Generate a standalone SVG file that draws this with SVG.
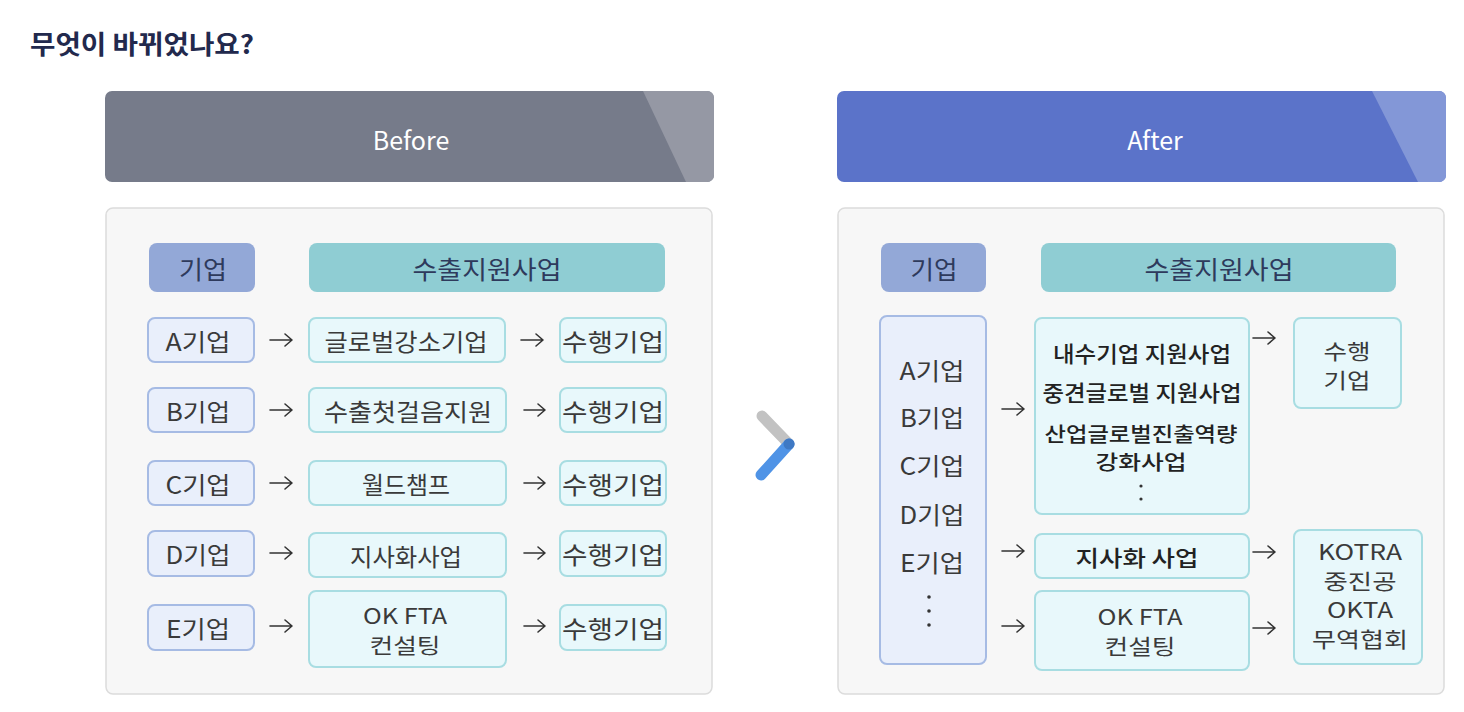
<svg xmlns="http://www.w3.org/2000/svg" width="1464" height="712" viewBox="0 0 1464 712">
<defs>
<style>
text{font-family:"Noto Sans CJK KR","Noto Sans",sans-serif;text-anchor:middle;dominant-baseline:central}
.title{font-size:26px;font-weight:700;fill:#22294d;text-anchor:start}
.hdr{font-size:25px;fill:#ffffff}
.panel{fill:#f7f7f7;stroke:#dcdcdc;stroke-width:1.5}
.hco{fill:#93a8d7}
.hsu{fill:#8fcdd3}
.htx{font-size:25px;fill:#2e3a5c}
.co{fill:#e9effb;stroke:#a6bbe4;stroke-width:2}
.su{fill:#e8f8fb;stroke:#a8dde2;stroke-width:2}
.t{font-size:24px;fill:#3a3a3a}
.m{font-size:21px;fill:#3a3a3a}
.tb{font-size:22px;fill:#222;font-weight:500}
.mb{font-size:20px;fill:#222;font-weight:500}
.arr{fill:none;stroke:#333;stroke-width:1.6;stroke-linecap:round;stroke-linejoin:round}
</style>
</defs>
<rect width="1464" height="712" fill="#ffffff"/>
<text class="title" x="30" y="42" textLength="224" lengthAdjust="spacingAndGlyphs">무엇이 바뀌었나요?</text>

<g id="before-header">
<rect x="105" y="91" width="609" height="91" rx="7" fill="#767b8a"/>
<path d="M643,91 H707 A7,7 0 0 1 714,98 V175 A7,7 0 0 1 707,182 H686 Z" fill="#9598a4"/>
<text class="hdr" x="411" y="139">Before</text>
</g>
<g id="after-header">
<rect x="837" y="91" width="609" height="91" rx="7" fill="#5b73c9"/>
<path d="M1372,91 H1439 A7,7 0 0 1 1446,98 V175 A7,7 0 0 1 1439,182 H1418 Z" fill="#8397d7"/>
<text class="hdr" x="1155" y="139">After</text>
</g>

<g id="before-panel"><rect class="panel" x="106" y="208" width="606" height="486" rx="7"/></g>
<g id="after-panel"><rect class="panel" x="838" y="208" width="606" height="486" rx="7"/></g>

<g id="chevron">
<line x1="762" y1="416" x2="789" y2="444" stroke="#c2c2c2" stroke-width="11" stroke-linecap="round"/>
<line x1="789" y1="444" x2="761" y2="475" stroke="#4f93e6" stroke-width="11" stroke-linecap="round"/>
<circle cx="789" cy="444" r="5.5" fill="#3f79c4"/>
</g>

<!-- Before -->
<g id="b-h-co"><rect class="hco" x="149" y="243" width="106" height="49" rx="8"/><text class="htx" x="203" y="268" textLength="48" lengthAdjust="spacingAndGlyphs">기업</text></g>
<g id="b-h-su"><rect class="hsu" x="309" y="243" width="356" height="49" rx="8"/><text class="htx" x="487" y="268" textLength="149" lengthAdjust="spacingAndGlyphs">수출지원사업</text></g>

<g id="b-a-co"><rect class="co" x="148" y="318" width="106" height="44" rx="7"/><text class="t" x="198" y="340" textLength="65" lengthAdjust="spacingAndGlyphs">A기업</text></g>
<g id="b-a-su"><rect class="su" x="309" y="318" width="196" height="44" rx="7"/><text class="t" x="406" y="340" textLength="163" lengthAdjust="spacingAndGlyphs">글로벌강소기업</text></g>
<g id="b-a-do"><rect class="su" x="560" y="318" width="106" height="44" rx="7"/><text class="t" x="613" y="340" textLength="102" lengthAdjust="spacingAndGlyphs">수행기업</text></g>

<g id="b-b-co"><rect class="co" x="148" y="388" width="106" height="44" rx="7"/><text class="t" x="198" y="410" textLength="64" lengthAdjust="spacingAndGlyphs">B기업</text></g>
<g id="b-b-su"><rect class="su" x="309" y="388" width="197" height="44" rx="7"/><text class="t" x="408" y="410" textLength="168" lengthAdjust="spacingAndGlyphs">수출첫걸음지원</text></g>
<g id="b-b-do"><rect class="su" x="560" y="388" width="106" height="44" rx="7"/><text class="t" x="613" y="410" textLength="102" lengthAdjust="spacingAndGlyphs">수행기업</text></g>

<g id="b-c-co"><rect class="co" x="148" y="461" width="106" height="44" rx="7"/><text class="t" x="198" y="483" textLength="65" lengthAdjust="spacingAndGlyphs">C기업</text></g>
<g id="b-c-su"><rect class="su" x="309" y="461" width="197" height="44" rx="7"/><text class="t" x="406" y="483" textLength="88" lengthAdjust="spacingAndGlyphs">월드챔프</text></g>
<g id="b-c-do"><rect class="su" x="560" y="461" width="106" height="44" rx="7"/><text class="t" x="613" y="483" textLength="102" lengthAdjust="spacingAndGlyphs">수행기업</text></g>

<g id="b-d-co"><rect class="co" x="148" y="531" width="106" height="45" rx="7"/><text class="t" x="198" y="553" textLength="65" lengthAdjust="spacingAndGlyphs">D기업</text></g>
<g id="b-d-su"><rect class="su" x="309" y="533" width="197" height="44" rx="7"/><text class="t" x="406" y="555" textLength="112" lengthAdjust="spacingAndGlyphs">지사화사업</text></g>
<g id="b-d-do"><rect class="su" x="560" y="531" width="106" height="45" rx="7"/><text class="t" x="613" y="553" textLength="102" lengthAdjust="spacingAndGlyphs">수행기업</text></g>

<g id="b-e-co"><rect class="co" x="148" y="605" width="106" height="45" rx="7"/><text class="t" x="198" y="627" textLength="64" lengthAdjust="spacingAndGlyphs">E기업</text></g>
<g id="b-e-su"><rect class="su" x="309" y="591" width="197" height="76" rx="7"/><text class="m" x="405" y="615" textLength="84" lengthAdjust="spacingAndGlyphs">OK FTA</text><text class="m" x="405" y="644" textLength="71" lengthAdjust="spacingAndGlyphs">컨설팅</text></g>
<g id="b-e-do"><rect class="su" x="560" y="605" width="106" height="45" rx="7"/><text class="t" x="613" y="627" textLength="102" lengthAdjust="spacingAndGlyphs">수행기업</text></g>

<!-- After -->
<g id="a-h-co"><rect class="hco" x="881" y="243" width="105" height="49" rx="8"/><text class="htx" x="934" y="268" textLength="47" lengthAdjust="spacingAndGlyphs">기업</text></g>
<g id="a-h-su"><rect class="hsu" x="1041" y="243" width="355" height="49" rx="8"/><text class="htx" x="1219" y="268" textLength="149" lengthAdjust="spacingAndGlyphs">수출지원사업</text></g>

<g id="a-co">
<rect class="co" x="880" y="316" width="106" height="348" rx="7"/>
<text class="t" x="932" y="369" textLength="65" lengthAdjust="spacingAndGlyphs">A기업</text>
<text class="t" x="932" y="416" textLength="64" lengthAdjust="spacingAndGlyphs">B기업</text>
<text class="t" x="932" y="464" textLength="65" lengthAdjust="spacingAndGlyphs">C기업</text>
<text class="t" x="932" y="513" textLength="65" lengthAdjust="spacingAndGlyphs">D기업</text>
<text class="t" x="932" y="561" textLength="64" lengthAdjust="spacingAndGlyphs">E기업</text>
<circle cx="929" cy="597" r="1.8" fill="#333"/>
<circle cx="929" cy="611" r="1.8" fill="#333"/>
<circle cx="929" cy="625" r="1.8" fill="#333"/>
</g>
<g id="a-su1">
<rect class="su" x="1035" y="318" width="214" height="196" rx="7"/>
<text class="tb" x="1142" y="352" textLength="178" lengthAdjust="spacingAndGlyphs">내수기업 지원사업</text>
<text class="tb" x="1142" y="391" textLength="199" lengthAdjust="spacingAndGlyphs">중견글로벌 지원사업</text>
<text class="mb" x="1141" y="433" textLength="193" lengthAdjust="spacingAndGlyphs">산업글로벌진출역량</text>
<text class="mb" x="1141" y="461" textLength="91" lengthAdjust="spacingAndGlyphs">강화사업</text>
<circle cx="1141" cy="486" r="1.6" fill="#333"/>
<circle cx="1141" cy="499" r="1.6" fill="#333"/>
</g>
<g id="a-do1"><rect class="su" x="1294" y="318" width="107" height="90" rx="7"/><text class="m" x="1347" y="350" textLength="47" lengthAdjust="spacingAndGlyphs">수행</text><text class="m" x="1347" y="379" textLength="47" lengthAdjust="spacingAndGlyphs">기업</text></g>
<g id="a-su2"><rect class="su" x="1035" y="534" width="214" height="44" rx="7"/><text class="tb" x="1137" y="556" textLength="123" lengthAdjust="spacingAndGlyphs">지사화 사업</text></g>
<g id="a-su3"><rect class="su" x="1035" y="591" width="214" height="79" rx="7"/><text class="m" x="1140" y="616" textLength="85" lengthAdjust="spacingAndGlyphs">OK FTA</text><text class="m" x="1140" y="645" textLength="71" lengthAdjust="spacingAndGlyphs">컨설팅</text></g>
<g id="a-do2"><rect class="su" x="1294" y="530" width="128" height="134" rx="7"/>
<text class="m" x="1360" y="551" textLength="84" lengthAdjust="spacingAndGlyphs">KOTRA</text>
<text class="m" x="1360" y="580" textLength="73" lengthAdjust="spacingAndGlyphs">중진공</text>
<text class="m" x="1360" y="609" textLength="66" lengthAdjust="spacingAndGlyphs">OKTA</text>
<text class="m" x="1360" y="638" textLength="96" lengthAdjust="spacingAndGlyphs">무역협회</text>
</g>

<g id="connectors" class="arr">
<path d="M270,340 H292 M285,334 L292,340 L285,346"/>
<path d="M521,340 H543 M536,334 L543,340 L536,346"/>
<path d="M270,410 H292 M285,404 L292,410 L285,416"/>
<path d="M524,410 H545 M538,404 L545,410 L538,416"/>
<path d="M270,483 H292 M285,477 L292,483 L285,489"/>
<path d="M524,483 H545 M538,477 L545,483 L538,489"/>
<path d="M270,553 H292 M285,547 L292,553 L285,559"/>
<path d="M524,553 H545 M538,547 L545,553 L538,559"/>
<path d="M270,626 H292 M285,620 L292,626 L285,632"/>
<path d="M524,626 H545 M538,620 L545,626 L538,632"/>
<path d="M1002,409 H1024 M1017,403 L1024,409 L1017,415"/>
<path d="M1253,338 H1275 M1268,332 L1275,338 L1268,344"/>
<path d="M1002,551 H1024 M1017,545 L1024,551 L1017,557"/>
<path d="M1253,552 H1275 M1268,546 L1275,552 L1268,558"/>
<path d="M1002,626 H1024 M1017,620 L1024,626 L1017,632"/>
<path d="M1253,628 H1275 M1268,622 L1275,628 L1268,634"/>
</g>
</svg>
